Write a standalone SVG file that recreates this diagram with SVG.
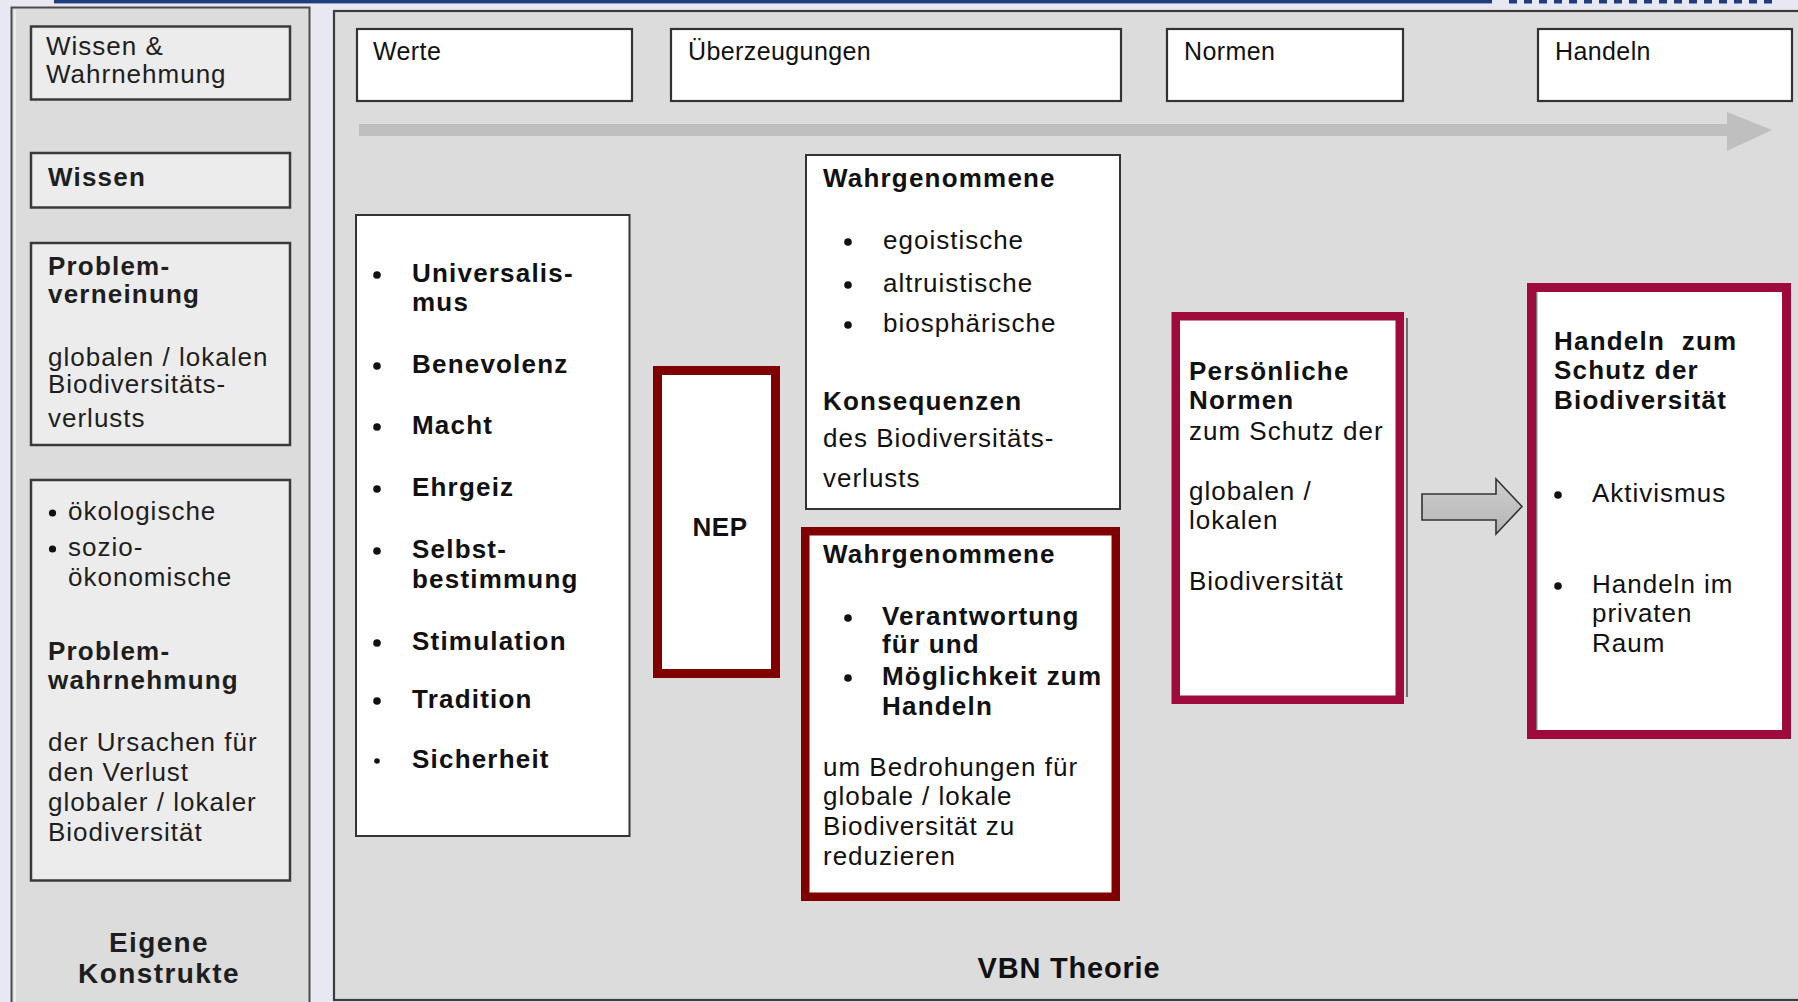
<svg xmlns="http://www.w3.org/2000/svg" width="1798" height="1002" viewBox="0 0 1798 1002">
  <style>
    .r { font-family: "Liberation Sans", Arial, sans-serif; font-size: 26px; letter-spacing: 1px; fill: #111; }
    .b { font-family: "Liberation Sans", Arial, sans-serif; font-size: 26px; font-weight: bold; letter-spacing: 1.2px; fill: #111; }
    .h { font-family: "Liberation Sans", Arial, sans-serif; font-size: 25px; letter-spacing: 0.4px; fill: #111; }
    .lt { fill: #1e1e1e; }
    .sidebox { fill: #ececec; stroke: #3a3a3a; stroke-width: 2.5; }
    .head { fill: #ffffff; stroke: #333; stroke-width: 2.2; }
    .plain { fill: #ffffff; stroke: #333; stroke-width: 2; }
    .dark { fill: #ffffff; stroke: #800000; }
    .crim { fill: #ffffff; stroke: #9e0a3b; }
    .dot { fill: #111; }
  </style>
  <defs>
    <linearGradient id="hollowFill" x1="0" y1="0" x2="0" y2="1">
      <stop offset="0" stop-color="#cfcfcf"/>
      <stop offset="1" stop-color="#b4b4b4"/>
    </linearGradient>
  </defs>

  <!-- page background and top rule -->
  <rect x="0" y="0" width="1798" height="1002" fill="#e8e8f3"/>
  <rect x="54" y="0" width="1438" height="3.4" fill="#1f3c7c"/>
  <line x1="1509" y1="1.7" x2="1778" y2="1.7" stroke="#1f3c7c" stroke-width="3.4" stroke-dasharray="8 7"/>

  <!-- left column: own constructs -->
  <g id="panel-left">
    <rect x="11.5" y="7.5" width="298" height="1010" fill="#dcdcdc" stroke="#4a4a4a" stroke-width="2"/>
    <line x1="15" y1="10" x2="15" y2="1002" stroke="#f2f2f2" stroke-width="1.5"/>
  </g>

  <g id="node-wissen-wahrnehmung">
    <rect class="sidebox" x="31" y="26.5" width="259" height="73"/>
    <text class="r lt" x="46" y="55">Wissen &amp;</text>
    <text class="r lt" x="46" y="83">Wahrnehmung</text>
  </g>

  <g id="node-wissen">
    <rect class="sidebox" x="31" y="153" width="259" height="54.5"/>
    <text class="b lt" x="48" y="186">Wissen</text>
  </g>

  <g id="node-problemverneinung">
    <rect class="sidebox" x="31" y="243" width="259" height="202"/>
    <text class="b lt" x="48" y="275">Problem-</text>
    <text class="b lt" x="48" y="303">verneinung</text>
    <text class="r lt" x="48" y="366">globalen / lokalen</text>
    <text class="r lt" x="48" y="393">Biodiversitäts-</text>
    <text class="r lt" x="48" y="427">verlusts</text>
  </g>

  <g id="node-problemwahrnehmung">
    <rect class="sidebox" x="31" y="480" width="259" height="400.5"/>
    <circle class="dot" cx="52.5" cy="513" r="3.6"/>
    <text class="r lt" x="68" y="520">ökologische</text>
    <circle class="dot" cx="52.5" cy="549" r="3.6"/>
    <text class="r lt" x="68" y="556">sozio-</text>
    <text class="r lt" x="68" y="586">ökonomische</text>
    <text class="b lt" x="48" y="660">Problem-</text>
    <text class="b lt" x="48" y="689">wahrnehmung</text>
    <text class="r lt" x="48" y="751">der Ursachen für</text>
    <text class="r lt" x="48" y="781">den Verlust</text>
    <text class="r lt" x="48" y="811">globaler / lokaler</text>
    <text class="r lt" x="48" y="841">Biodiversität</text>
  </g>

  <g id="label-eigene-konstrukte">
    <text class="b lt" x="159" y="952" text-anchor="middle" style="font-size:28px;letter-spacing:1.4px">Eigene</text>
    <text class="b lt" x="159" y="983" text-anchor="middle" style="font-size:28px;letter-spacing:1.4px">Konstrukte</text>
  </g>

  <!-- main panel: VBN theory -->
  <g id="panel-vbn">
    <rect x="334" y="11" width="1480" height="989" fill="#dcdcdc" stroke="#3c3c3c" stroke-width="2.2"/>
    <text class="b" x="1069" y="978" text-anchor="middle" style="font-size:29px;letter-spacing:0.8px">VBN Theorie</text>
  </g>

  <g id="header-werte">
    <rect class="head" x="357" y="29" width="275" height="72"/>
    <text class="h" x="373" y="60">Werte</text>
  </g>
  <g id="header-ueberzeugungen">
    <rect class="head" x="671" y="29" width="450" height="72"/>
    <text class="h" x="688" y="60">Überzeugungen</text>
  </g>
  <g id="header-normen">
    <rect class="head" x="1167" y="29" width="236" height="72"/>
    <text class="h" x="1184" y="60">Normen</text>
  </g>
  <g id="header-handeln">
    <rect class="head" x="1538" y="29" width="254" height="72"/>
    <text class="h" x="1555" y="60">Handeln</text>
  </g>

  <g id="node-werte">
    <rect class="plain" x="356" y="215" width="273.5" height="621"/>
    <circle class="dot" cx="377" cy="275" r="3.8"/>
    <text class="b" x="412" y="282">Universalis-</text>
    <text class="b" x="412" y="311">mus</text>
    <circle class="dot" cx="377" cy="366" r="3.8"/>
    <text class="b" x="412" y="373">Benevolenz</text>
    <circle class="dot" cx="377" cy="427" r="3.8"/>
    <text class="b" x="412" y="434">Macht</text>
    <circle class="dot" cx="377" cy="489" r="3.8"/>
    <text class="b" x="412" y="496">Ehrgeiz</text>
    <circle class="dot" cx="377" cy="551" r="3.8"/>
    <text class="b" x="412" y="558">Selbst-</text>
    <text class="b" x="412" y="588">bestimmung</text>
    <circle class="dot" cx="377" cy="643" r="3.8"/>
    <text class="b" x="412" y="650">Stimulation</text>
    <circle class="dot" cx="377" cy="701" r="3.8"/>
    <text class="b" x="412" y="708">Tradition</text>
    <circle class="dot" cx="377" cy="761" r="2.8"/>
    <text class="b" x="412" y="768">Sicherheit</text>
  </g>

  <g id="node-nep">
    <rect class="dark" x="657.5" y="370.5" width="118" height="303" stroke-width="9"/>
    <text class="b" x="720" y="536" text-anchor="middle" style="letter-spacing:0.5px">NEP</text>
  </g>

  <g id="node-konsequenzen">
    <rect class="plain" x="806" y="155" width="314" height="354"/>
    <text class="b" x="823" y="187">Wahrgenommene</text>
    <circle class="dot" cx="848" cy="242" r="3.8"/>
    <text class="r" x="883" y="249">egoistische</text>
    <circle class="dot" cx="848" cy="285" r="3.8"/>
    <text class="r" x="883" y="292">altruistische</text>
    <circle class="dot" cx="848" cy="325" r="3.8"/>
    <text class="r" x="883" y="332">biosphärische</text>
    <text class="b" x="823" y="410">Konsequenzen</text>
    <text class="r" x="823" y="447">des Biodiversitäts-</text>
    <text class="r" x="823" y="487">verlusts</text>
  </g>

  <g id="node-verantwortung">
    <rect class="dark" x="805.25" y="531.25" width="310.5" height="365.5" stroke-width="8.5"/>
    <text class="b" x="823" y="563">Wahrgenommene</text>
    <circle class="dot" cx="848" cy="618" r="3.8"/>
    <text class="b" x="882" y="625">Verantwortung</text>
    <text class="b" x="882" y="653">für und</text>
    <circle class="dot" cx="848" cy="678" r="3.8"/>
    <text class="b" x="882" y="685">Möglichkeit zum</text>
    <text class="b" x="882" y="715">Handeln</text>
    <text class="r" x="823" y="776">um Bedrohungen für</text>
    <text class="r" x="823" y="805">globale / lokale</text>
    <text class="r" x="823" y="835">Biodiversität zu</text>
    <text class="r" x="823" y="865">reduzieren</text>
  </g>

  <g id="node-persoenliche-normen">
    <line x1="1407" y1="318" x2="1407" y2="697" stroke="#555" stroke-width="1.6"/>
    <rect class="crim" x="1175.75" y="316.25" width="224" height="383.5" stroke-width="8.5"/>
    <text class="b" x="1189" y="380">Persönliche</text>
    <text class="b" x="1189" y="409">Normen</text>
    <text class="r" x="1189" y="440">zum Schutz der</text>
    <text class="r" x="1189" y="500">globalen /</text>
    <text class="r" x="1189" y="529">lokalen</text>
    <text class="r" x="1189" y="590">Biodiversität</text>
  </g>

  <g id="node-handeln">
    <rect class="crim" x="1531.5" y="287.5" width="255" height="447" stroke-width="9"/>
    <line x1="1536.8" y1="292" x2="1536.8" y2="730" stroke="#444" stroke-width="1"/>
    <text class="b" x="1554" y="350" style="white-space:pre">Handeln  zum</text>
    <text class="b" x="1554" y="379">Schutz der</text>
    <text class="b" x="1554" y="409">Biodiversität</text>
    <circle class="dot" cx="1558" cy="495" r="3.8"/>
    <text class="r" x="1592" y="502">Aktivismus</text>
    <circle class="dot" cx="1558" cy="586" r="3.8"/>
    <text class="r" x="1592" y="593">Handeln im</text>
    <text class="r" x="1592" y="622">privaten</text>
    <text class="r" x="1592" y="652">Raum</text>
  </g>

  <!-- connectors -->
  <g id="connectors">
    <rect x="359" y="124" width="1369" height="12" fill="#bfbfbf"/>
    <polygon points="1727,112 1772,130 1727,151" fill="#bfbfbf"/>
    <polygon points="1422,494 1496,494 1496,479 1522,506.5 1496,534 1496,520 1422,520" fill="url(#hollowFill)" stroke="#333" stroke-width="1.6" stroke-linejoin="miter"/>
  </g>
</svg>
